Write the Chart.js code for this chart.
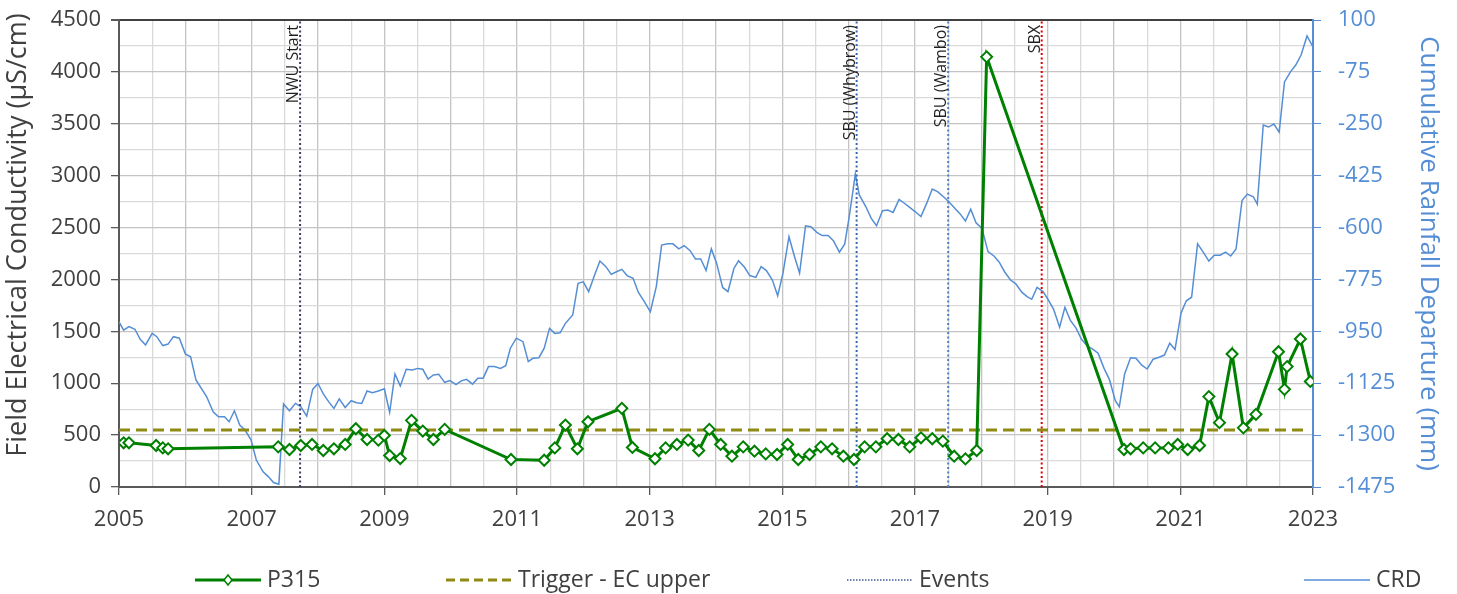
<!DOCTYPE html>
<html>
<head>
<meta charset="utf-8">
<title>P315 EC</title>
<script src="https://cdn.jsdelivr.net/npm/chart.js@4.4.1/dist/chart.umd.min.js"></script>
<style>
  html, body { margin: 0; padding: 0; background: #ffffff; }
  #wrap { position: relative; width: 1457px; height: 594px; }
</style>
</head>
<body>
<div id="wrap"><canvas id="ecChart"></canvas></div>
<script>
/* global Chart:false */

// P315 field EC readings (decimal year, uS/cm)
const p315Years = [
  2005.07, 2005.15, 2005.56, 2005.66, 2005.74,
  2007.40, 2007.57, 2007.74, 2007.91, 2008.08, 2008.24, 2008.41, 2008.57, 2008.74, 2008.91,
  2009.00, 2009.08, 2009.24, 2009.41, 2009.58, 2009.74, 2009.91,
  2010.91, 2011.41, 2011.57, 2011.73, 2011.91, 2012.07, 2012.58, 2012.74,
  2013.08, 2013.24, 2013.41, 2013.58, 2013.74, 2013.90, 2014.07, 2014.24, 2014.41, 2014.58,
  2014.75, 2014.92, 2015.08, 2015.24, 2015.41, 2015.58, 2015.75, 2015.92, 2016.08, 2016.24,
  2016.41, 2016.58, 2016.75, 2016.92, 2017.09, 2017.26, 2017.42, 2017.59, 2017.76, 2017.93,
  2018.08,
  2020.15, 2020.25, 2020.44, 2020.62, 2020.82, 2020.96, 2021.11, 2021.29, 2021.43, 2021.59,
  2021.78, 2021.95, 2022.14, 2022.48, 2022.57, 2022.61, 2022.81, 2022.96
];
const p315EC = [
  426, 426, 400, 377, 368,
  387, 361, 400, 410, 352, 368, 410, 561, 458, 452,
  497, 303, 274, 642, 539, 458, 555,
  265, 258, 377, 597, 368, 629, 758, 381,
  272, 377, 410, 452, 352, 555, 410, 297, 387, 345,
  319, 313, 410, 265, 313, 387, 368, 297, 265, 387,
  387, 465, 458, 387, 474, 465, 442, 297, 271, 352,
  4145,
  361, 368, 377, 377, 377, 410, 361, 400, 871, 620,
  1282, 570, 700, 1304, 941, 1160, 1426, 1017
];

// EC upper trigger
const triggerYears = [2005.0, 2022.88];
const triggerEC = [550, 550];

// mining events
const eventNames = ["NWU Start", "SBU (Whybrow)", "SBU (Wambo)", "SBX"];
const eventYears = [2007.73, 2016.12, 2017.50, 2018.91];

// cumulative rainfall departure (mm)
const crdYears = [
  2005.00, 2005.07, 2005.15, 2005.24, 2005.32, 2005.40, 2005.50, 2005.57, 2005.66, 2005.74, 2005.82, 2005.91,
  2006.00, 2006.08, 2006.16, 2006.32, 2006.42, 2006.50, 2006.59, 2006.66, 2006.74, 2006.82, 2006.90, 2006.99,
  2007.07, 2007.17, 2007.25, 2007.33, 2007.41, 2007.48, 2007.57, 2007.66, 2007.74, 2007.83, 2007.92,
  2008.00, 2008.08, 2008.16, 2008.24, 2008.32, 2008.41, 2008.50, 2008.58, 2008.66, 2008.74, 2008.82, 2008.91,
  2009.00, 2009.08, 2009.16, 2009.24, 2009.33, 2009.42, 2009.50, 2009.58, 2009.66, 2009.74, 2009.82, 2009.91, 2009.99,
  2010.08, 2010.16, 2010.24, 2010.33, 2010.41, 2010.49, 2010.57, 2010.66, 2010.75, 2010.83, 2010.90, 2010.99,
  2011.09, 2011.17, 2011.24, 2011.33, 2011.41, 2011.49, 2011.57, 2011.65, 2011.73, 2011.84, 2011.92,
  2012.00, 2012.08, 2012.17, 2012.25, 2012.34, 2012.42, 2012.50, 2012.58, 2012.66, 2012.75, 2012.83, 2012.92,
  2013.01, 2013.10, 2013.18, 2013.27, 2013.35, 2013.44, 2013.52, 2013.61, 2013.69, 2013.77, 2013.85, 2013.93,
  2014.01, 2014.10, 2014.18, 2014.27, 2014.34, 2014.43, 2014.51, 2014.60, 2014.68, 2014.76, 2014.85, 2014.93,
  2015.01, 2015.10, 2015.18, 2015.26, 2015.35, 2015.43, 2015.52, 2015.60, 2015.69, 2015.77, 2015.86, 2015.94,
  2016.00, 2016.06, 2016.10, 2016.16, 2016.26, 2016.34, 2016.42, 2016.51, 2016.59, 2016.67, 2016.76, 2016.84, 2016.92,
  2017.00, 2017.09, 2017.18, 2017.26, 2017.34, 2017.43, 2017.51, 2017.59, 2017.68, 2017.76, 2017.84, 2017.92,
  2018.01, 2018.10, 2018.19, 2018.27, 2018.35, 2018.44, 2018.52, 2018.61, 2018.69, 2018.76, 2018.84, 2018.93,
  2019.01, 2019.09, 2019.18, 2019.26, 2019.34, 2019.43, 2019.51, 2019.60, 2019.68, 2019.76, 2019.85, 2019.93,
  2020.02, 2020.08, 2020.16, 2020.25, 2020.33, 2020.42, 2020.50, 2020.59, 2020.67, 2020.76, 2020.84, 2020.92,
  2021.01, 2021.09, 2021.17, 2021.26, 2021.34, 2021.43, 2021.51, 2021.60, 2021.68, 2021.76, 2021.84, 2021.93,
  2022.01, 2022.10, 2022.16, 2022.25, 2022.33, 2022.41, 2022.49, 2022.57, 2022.66, 2022.74, 2022.82, 2022.91,
  2023.00
];
const crdMM = [
  -918, -946, -934, -943, -977, -996, -957, -968, -998, -993, -968, -973,
  -1026, -1036, -1114, -1170, -1221, -1238, -1238, -1255, -1218, -1266, -1283, -1316,
  -1384, -1423, -1440, -1460, -1466, -1195, -1218, -1193, -1204, -1236, -1146,
  -1126, -1161, -1187, -1210, -1178, -1207, -1184, -1191, -1193, -1151, -1157, -1151,
  -1144, -1223, -1094, -1134, -1078, -1080, -1075, -1078, -1111, -1097, -1095, -1122, -1116,
  -1130, -1117, -1112, -1128, -1108, -1108, -1069, -1069, -1075, -1066, -1007, -973,
  -985, -1052, -1041, -1039, -1007, -940, -957, -955, -923, -895, -788,
  -783, -816, -760, -713, -732, -758, -749, -741, -762, -771, -819, -850,
  -884, -799, -659, -655, -655, -672, -661, -678, -706, -706, -745, -672,
  -721, -802, -816, -738, -712, -734, -762, -768, -732, -745, -777, -830,
  -754, -631, -695, -754, -594, -597, -616, -627, -627, -644, -683, -656,
  -575, -484, -419, -490, -530, -569, -594, -543, -541, -549, -505, -518, -532,
  -546, -563, -516, -470, -479, -496, -513, -532, -554, -578, -538, -584,
  -603, -681, -696, -717, -749, -777, -790, -818, -833, -842, -802, -816,
  -844, -876, -936, -869, -912, -940, -977, -1000, -1010, -1024, -1075, -1112,
  -1184, -1204, -1094, -1039, -1041, -1064, -1077, -1044, -1038, -1030, -990, -1011,
  -889, -847, -835, -655, -681, -713, -693, -693, -683, -696, -672, -509,
  -487, -496, -521, -254, -261, -251, -278, -109, -75, -52, -18, 46,
  9
];

const FONT = "'Open Sans', 'Noto Sans', sans-serif";
const TEXT_DARK = "#404040";
const CRD_BLUE = "#558ED5";
const EVENT_COLORS = ["#3F3D6B", "#3566B0", "#4F81C7", "#E00000"];

// plot-area edges, in canvas pixels
const PLOT = { left: 119, right: 1313, top: 20, bottom: 487 };

function toPoints(xs, ys) {
  return xs.map(function (x, i) {
    return { x: x, y: ys[i] };
  });
}

// vertical axes: fixed width, and no extra room for the end labels
function fixWidth(w) {
  return function (scale) {
    scale.width = w;
    scale.paddingTop = 0;
    scale.paddingBottom = 0;
  };
}

const eventSets = eventYears.map(function (yr, i) {
  return {
    label: eventNames[i],
    data: toPoints([yr, yr], [0, 4500]),
    borderColor: EVENT_COLORS[i],
    borderWidth: 2,
    borderDash: [2, 2.5],
    pointRadius: 0,
    yAxisID: "y",
  };
});

// vertical text beside each event line, plus the left axis title
const sideText = {
  id: "sideText",
  afterDatasetsDraw(chart) {
    const ctx = chart.ctx;
    const xs = chart.scales.x;
    ctx.save();
    ctx.font = "16px " + FONT;
    ctx.fillStyle = "#1f1f1f";
    ctx.textAlign = "right";
    ctx.textBaseline = "alphabetic";
    eventYears.forEach(function (yr, i) {
      const px = xs.getPixelForValue(yr);
      ctx.save();
      ctx.translate(px - 2, chart.chartArea.top + 5);
      ctx.rotate(-Math.PI / 2);
      ctx.fillText(eventNames[i], 0, 0);
      ctx.restore();
    });

    ctx.font = "27px " + FONT;
    ctx.fillStyle = TEXT_DARK;
    ctx.textAlign = "center";
    ctx.textBaseline = "middle";
    ctx.translate(18, 235);
    ctx.rotate(-Math.PI / 2);
    ctx.fillText("Field Electrical Conductivity (\u00b5S/cm)", 0, 0);
    ctx.restore();
  },
};

// legend row under the x axis
const legendItems = [
  { text: "P315", x: 195, kind: "p315" },
  { text: "Trigger - EC upper", x: 446, kind: "trigger" },
  { text: "Events", x: 847, kind: "events" },
  { text: "CRD", x: 1304, kind: "crd" },
];
const bottomLegend = {
  id: "bottomLegend",
  afterDraw(chart) {
    const ctx = chart.ctx;
    const y = 580;
    const len = 66;
    ctx.save();
    legendItems.forEach(function (it) {
      ctx.save();
      ctx.beginPath();
      if (it.kind === "p315") {
        ctx.strokeStyle = "#008000";
        ctx.lineWidth = 3;
      } else if (it.kind === "trigger") {
        ctx.strokeStyle = "#8F8A14";
        ctx.lineWidth = 3;
        ctx.setLineDash([9, 5]);
      } else if (it.kind === "events") {
        ctx.strokeStyle = "#3E5C9A";
        ctx.lineWidth = 1.5;
        ctx.setLineDash([1.5, 1.5]);
      } else {
        ctx.strokeStyle = CRD_BLUE;
        ctx.lineWidth = 1.5;
      }
      ctx.moveTo(it.x, y);
      ctx.lineTo(it.x + len, y);
      ctx.stroke();
      if (it.kind === "p315") {
        const cx = it.x + len / 2;
        ctx.setLineDash([]);
        ctx.beginPath();
        ctx.moveTo(cx, y - 5);
        ctx.lineTo(cx + 4, y);
        ctx.lineTo(cx, y + 5);
        ctx.lineTo(cx - 4, y);
        ctx.closePath();
        ctx.fillStyle = "#ffffff";
        ctx.fill();
        ctx.lineWidth = 1.5;
        ctx.stroke();
      }
      ctx.restore();
      ctx.font = "23px " + FONT;
      ctx.fillStyle = TEXT_DARK;
      ctx.textAlign = "left";
      ctx.textBaseline = "middle";
      ctx.fillText(it.text, it.x + len + 6, y);
    });
    ctx.restore();
  },
};

function isMajor(v, step) {
  return Math.abs(v / step - Math.round(v / step)) < 1e-6;
}

const ctx = document.getElementById("ecChart").getContext("2d");
new Chart(ctx, {
  type: "line",
  data: {
    datasets: [
      {
        label: "P315",
        data: toPoints(p315Years, p315EC),
        borderColor: "#008000",
        borderWidth: 3,
        pointStyle: "rectRot",
        pointRadius: 5.5,
        pointBorderWidth: 2,
        pointBackgroundColor: "#ffffff",
        pointBorderColor: "#008000",
        yAxisID: "y",
      },
      {
        label: "Trigger - EC upper",
        data: toPoints(triggerYears, triggerEC),
        borderColor: "#8F8A14",
        borderWidth: 3,
        borderDash: [11, 6],
        pointRadius: 0,
        yAxisID: "y",
      },
    ].concat(eventSets, [
      {
        label: "CRD",
        data: toPoints(crdYears, crdMM),
        borderColor: CRD_BLUE,
        borderWidth: 1.5,
        pointRadius: 0,
        yAxisID: "y2",
      },
    ]),
  },
  options: {
    responsive: true,
    maintainAspectRatio: false,
    animation: false,
    layout: { padding: { top: PLOT.top, left: 0, right: 0, bottom: 0 } },
    plugins: {
      legend: { display: false },
      tooltip: { enabled: false },
    },
    scales: {
      x: {
        type: "linear",
        min: 2005,
        max: 2023,
        afterFit: function (scale) {
          scale.height = 594 - PLOT.bottom;
        },
        ticks: {
          stepSize: 0.5,
          autoSkip: false,
          maxRotation: 0,
          padding: 12,
          color: TEXT_DARK,
          font: { family: FONT, size: 22 },
          callback: function (v) {
            return isMajor(v - 2005, 2) ? String(v) : "";
          },
        },
        grid: {
          tickLength: 8,
          lineWidth: 1.3,
          color: function (c) {
            return isMajor(c.tick.value, 1) ? "#c4c4c4" : "#dadada";
          },
          tickColor: function (c) {
            return isMajor(c.tick.value - 2005, 2) ? "#595959" : "rgba(0,0,0,0)";
          },
        },
        border: { color: "#595959", width: 2 },
      },
      y: {
        type: "linear",
        position: "left",
        min: 0,
        max: 4500,
        afterFit: fixWidth(PLOT.left),
        ticks: {
          stepSize: 250,
          autoSkip: false,
          padding: 10,
          color: TEXT_DARK,
          font: { family: FONT, size: 22 },
          callback: function (v) {
            return isMajor(v, 500) ? String(v) : "";
          },
        },
        grid: {
          tickLength: 8,
          lineWidth: function (c) {
            return c.tick.value === 4500 ? 2 : 1.3;
          },
          color: function (c) {
            if (c.tick.value === 4500) return "#404040";
            return isMajor(c.tick.value, 500) ? "#c4c4c4" : "#dadada";
          },
          tickColor: function (c) {
            return isMajor(c.tick.value, 500) ? "#595959" : "rgba(0,0,0,0)";
          },
        },
        border: { color: "#595959", width: 2 },
      },
      y2: {
        type: "linear",
        position: "right",
        min: -1475,
        max: 100,
        afterFit: fixWidth(1457 - PLOT.right),
        ticks: {
          stepSize: 175,
          autoSkip: false,
          padding: 17,
          color: CRD_BLUE,
          font: { family: FONT, size: 22 },
          callback: function (v) {
            return String(v);
          },
        },
        grid: {
          drawOnChartArea: false,
          tickLength: 8,
          tickColor: CRD_BLUE,
        },
        border: { color: CRD_BLUE, width: 2 },
        title: {
          display: true,
          text: "Cumulative Rainfall Departure (mm)",
          color: CRD_BLUE,
          font: { family: FONT, size: 26 },
          padding: { top: 13, bottom: 0 },
        },
      },
    },
  },
  plugins: [sideText, bottomLegend],
});
</script>
</body>
</html>
